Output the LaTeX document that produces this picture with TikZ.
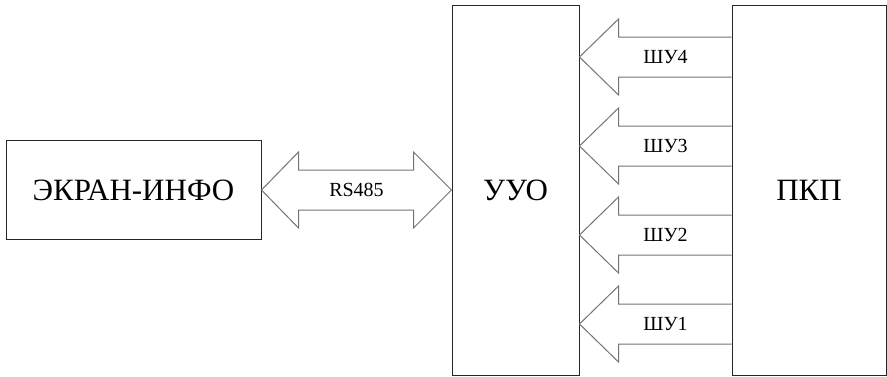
\documentclass[tikz,border=0pt]{standalone}
\usepackage{fontspec}
\setmainfont{Liberation Serif}
\usetikzlibrary{calc}
\begin{document}
\begin{tikzpicture}[x=1pt,y=-1pt,
  box/.style={draw=black!85,line width=1pt,fill=white,inner sep=0pt,font=\fontsize{31}{33}\selectfont},
  arr/.style={draw=black!55,line width=1pt,line join=miter},
  lbl/.style={font=\fontsize{20}{22}\selectfont,inner sep=0pt}]
\useasboundingbox (0,0) rectangle (887,376);
\node[box,minimum width=255pt,minimum height=99pt] (ekran) at (133.5,190) {ЭКРАН-ИНФО};
\node[box,minimum width=127pt,minimum height=370pt] (uuo) at (515.5,190) {УУО};
\node[box,minimum width=154pt,minimum height=370pt] (pkp) at (809,190) {ПКП};
% RS485 double arrow
\coordinate (l) at (ekran.east);
\coordinate (r) at (uuo.west |- ekran.east);
\draw[arr] (l) -- ($(l)+(37,-38)$) -- ($(l)+(37,-20)$) -- ($(r)+(-38,-20)$) -- ($(r)+(-38,-38)$)
  -- (r) -- ($(r)+(-38,38)$) -- ($(r)+(-38,20)$) -- ($(l)+(37,20)$) -- ($(l)+(37,38)$) -- cycle;
\node[lbl] (rs) at ($(l)!0.5!(r)$) {RS485};
% ШУ arrows
\foreach \c/\t [count=\i] in {57/ШУ4,146/ШУ3,235/ШУ2,324/ШУ1}{
  \coordinate (tip\i) at (uuo.east |- 0,\c);
  \coordinate (base\i) at (pkp.west |- 0,\c);
  \draw[arr] ($(base\i)+(0,-20)$) -- ($(tip\i)+(39,-20)$) -- ($(tip\i)+(39,-38)$) -- (tip\i)
    -- ($(tip\i)+(39,38)$) -- ($(tip\i)+(39,20)$) -- ($(base\i)+(0,20)$);
  \node[lbl] (shu\i) at ($(tip\i)!0.5!(base\i)+(10,0)$) {\t};
}
\end{tikzpicture}
\end{document}
